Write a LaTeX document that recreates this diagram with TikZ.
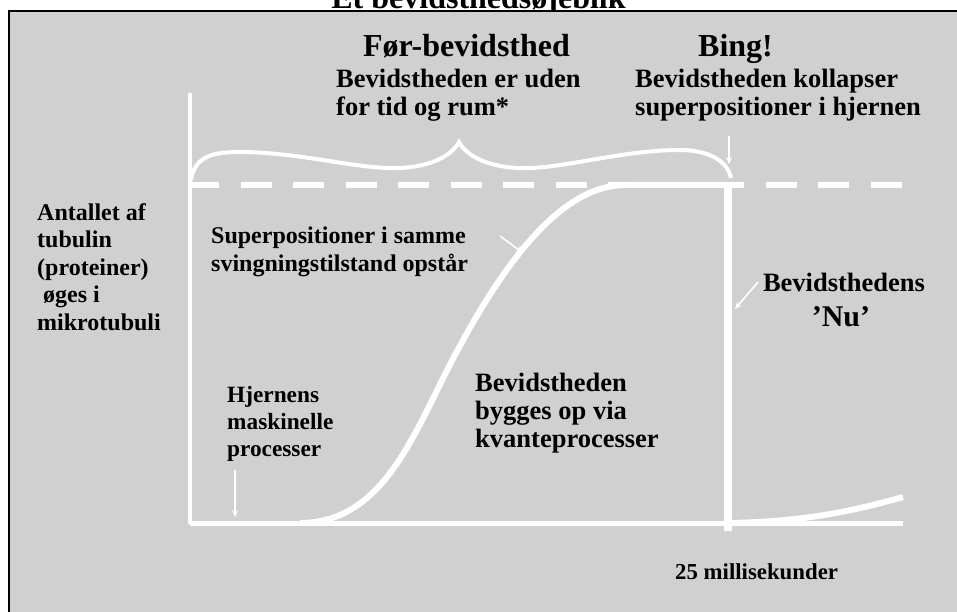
\documentclass[tikz,border=0pt]{standalone}
\usepackage{fontspec}
\setmainfont{Liberation Serif}
\usepackage{xcolor}
\usetikzlibrary{arrows.meta}
\definecolor{panel}{RGB}{208,208,208}
\tikzset{
  big/.style={font=\bfseries\fontsize{32}{34}\selectfont, inner sep=0pt},
  mid/.style={font=\bfseries\fontsize{26.5}{28}\selectfont, inner sep=0pt, align=left},
  sml/.style={font=\bfseries\fontsize{24}{27.5}\selectfont, inner sep=0pt, align=left},
  wline/.style={draw=white, line width=#1},
  pointer/.style={draw=white, line width=1.6pt, -{Stealth[length=7pt,width=6pt]}},
}

\begin{document}
\begin{tikzpicture}[x=1pt, y=-1pt]
    \useasboundingbox (0, 0) rectangle (957, 612);
    \clip (0, 0) rectangle (957, 612);

    % titel, kun bunden ses
    \node[big, anchor=base] at (478.5, 8.5) (title) {Et bevidsthedsøjeblik};
    \fill[panel] (9, 11.5) rectangle (965, 620);
    \draw[line width=2pt] (9, 620) -- (9, 11.5) -- (965, 11.5);

    % akser og kurver
    \coordinate (o) at (190, 523.5);
    \coordinate (ytop) at (190, 93);
    \coordinate (xend) at (903, 523.5);
    \coordinate (nutop) at (728, 183);
    \coordinate (nubot) at (728, 531);
    \draw[wline=4.5pt] (ytop) -- (o);
    \draw[wline=5pt] (o) -- (xend);
    \draw[wline=5.5pt, dash pattern=on 31pt off 21.5pt] (188, 185) -- (902, 185);
    \draw[wline=6pt] (300, 523) .. controls (385, 523) and (415, 430) .. (455, 355)
        .. controls (495, 280) and (555, 185) .. (625, 185) -- (nutop |- 0, 185);
    \draw[wline=8pt] (nutop) -- (nubot);
    \draw[wline=6pt] (728, 523) .. controls (800, 522) and (850, 512) .. (903, 497);

    % klammen
    \draw[wline=4pt] (191, 180) .. controls (195, 155) and (215, 152) .. (240, 152)
        .. controls (300, 152) and (360, 170) .. (400, 168)
        .. controls (440, 166) and (455, 150) .. (459, 142)
        .. controls (463, 150) and (478, 166) .. (518, 168)
        .. controls (560, 170) and (620, 150) .. (680, 150)
        .. controls (710, 150) and (728, 162) .. (731, 178);

    % tekster (base = sidste linje)
    \node[big, anchor=base] at (466.5, 57) (foer) {Før-bevidsthed};
    \node[big, anchor=base] at (735.5, 57) (bing) {Bing!};
    \node[mid, anchor=base west] at (336, 116) (uden) {Bevidstheden er uden\\for tid og rum*};
    \node[mid, anchor=base west] at (635, 116) (kollaps) {Bevidstheden kollapser\\superpositioner i hjernen};
    \node[sml, anchor=base west] at (37, 330) (antal) {Antallet af\\tubulin\\(proteiner)\\\hspace*{6pt}øges i\\mikrotubuli};
    \node[sml, anchor=base west] at (211, 271) (superpos) {Superpositioner i samme\\svingningstilstand opstår};
    \node[mid, anchor=base] at (844, 291) (nu) {Bevidsthedens};
    \node[big, font=\bfseries\fontsize{30}{30}\selectfont, anchor=base] at (841, 326) (nuq) {’Nu’};
    \node[sml, font=\bfseries\fontsize{23.3}{27}\selectfont, anchor=base west] at (227, 456) (hjerne) {Hjernens\\maskinelle\\processer};
    \node[mid, anchor=base west] at (475, 447) (kvante) {Bevidstheden\\bygges op via\\kvanteprocesser};
    \node[sml, font=\bfseries\fontsize{22.8}{27}\selectfont, anchor=base west] at (675, 579) (ms) {25 millisekunder};

    % små pile
    \coordinate (bingA) at (729, 136);
    \coordinate (bingB) at (729, 164);
    \coordinate (hjA) at (235, 470);
    \coordinate (hjB) at (235, 517);
    \coordinate (spA) at (500, 236);
    \coordinate (spB) at (523, 253);
    \coordinate (nuA) at (758, 282);
    \coordinate (nuB) at (735, 309);
    \draw (bingA) edge[pointer] (bingB);
    \draw (hjA) edge[pointer] (hjB);
    \draw (spA) edge[pointer] (spB);
    \draw (nuA) edge[pointer] (nuB);
\end{tikzpicture}
\end{document}
